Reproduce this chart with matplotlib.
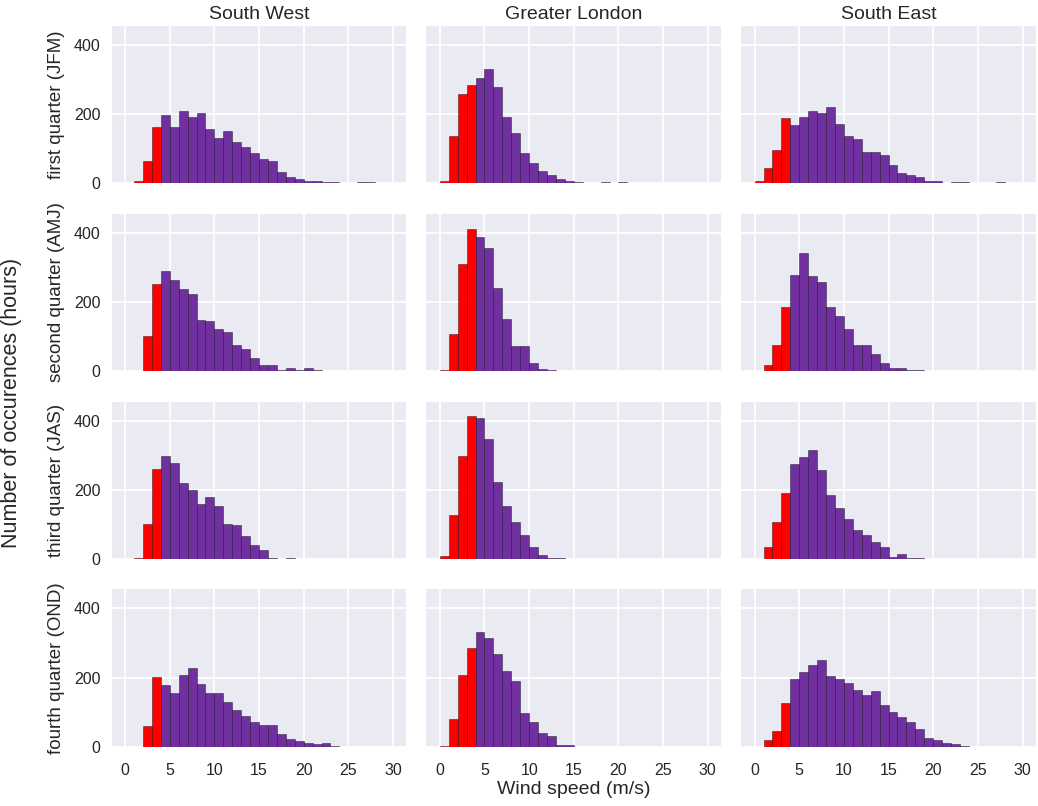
import numpy as np
import matplotlib
matplotlib.use("Agg")
import matplotlib.pyplot as plt
import seaborn as sns

sns.set_style("darkgrid")
plt.rcParams["font.family"] = ["Liberation Sans", "DejaVu Sans"]

# ---- data -------------------------------------------------------------
regions = ["South West", "Greater London", "South East"]
quarters = ["first quarter (JFM)", "second quarter (AMJ)",
            "third quarter (JAS)", "fourth quarter (OND)"]
# wind speed histogram bin edges (m/s)
bin_edges = [0, 1, 2, 3, 4, 5, 6, 7, 8, 9, 10, 11, 12, 13, 14, 15,
             16, 17, 18, 19, 20, 21, 22, 23, 24, 25, 26, 27, 28, 29, 30]
cut_in_speed = 4  # bins below this speed are drawn red

# hours per wind-speed bin
sw_jfm = [0, 8, 65, 163, 198, 163, 210, 193, 204, 157, 131, 152, 120, 106, 89,
          70, 65, 34, 17, 12, 7, 7, 3, 3, 2, 0, 5, 5, 0, 0]
gl_jfm = [6, 136, 259, 285, 304, 330, 280, 192, 146, 88, 58, 37, 23, 12, 6,
          3, 0, 0, 3, 0, 3, 0, 0, 0, 0, 0, 0, 0, 0, 0]
se_jfm = [7, 44, 96, 188, 168, 193, 210, 204, 220, 173, 137, 127, 90, 90, 81,
          54, 29, 23, 17, 7, 7, 0, 3, 3, 0, 0, 0, 4, 0, 0]

sw_amj = [0, 0, 102, 253, 289, 264, 237, 223, 149, 144, 122, 112, 76, 65, 39,
          17, 17, 2, 8, 2, 8, 3, 0, 0, 0, 0, 0, 0, 0, 0]
gl_amj = [2, 106, 309, 410, 388, 356, 241, 151, 73, 73, 22, 6, 2, 0, 0,
          0, 0, 0, 0, 0, 0, 0, 0, 0, 0, 0, 0, 0, 0, 0]
se_amj = [0, 18, 76, 186, 279, 343, 274, 258, 186, 159, 122, 75, 75, 49, 23,
          8, 8, 3, 3, 0, 0, 0, 0, 0, 0, 0, 0, 0, 0, 0]

sw_jas = [0, 3, 102, 261, 298, 277, 219, 198, 159, 179, 152, 101, 97, 65, 39,
          25, 4, 0, 4, 0, 0, 0, 0, 0, 0, 0, 0, 0, 0, 0]
gl_jas = [7, 127, 299, 414, 407, 346, 221, 153, 107, 69, 35, 12, 3, 3, 0,
          0, 0, 0, 0, 0, 0, 0, 0, 0, 0, 0, 0, 0, 0, 0]
se_jas = [0, 34, 107, 191, 274, 295, 315, 258, 184, 147, 116, 85, 70, 50, 34,
          6, 13, 3, 3, 0, 0, 0, 0, 0, 0, 0, 0, 0, 0, 0]

sw_ond = [0, 0, 60, 202, 177, 156, 207, 228, 181, 156, 156, 130, 105, 88, 72,
          63, 63, 36, 21, 15, 11, 7, 12, 3, 0, 0, 0, 0, 0, 0]
gl_ond = [3, 80, 207, 285, 331, 315, 269, 218, 191, 98, 72, 41, 32, 4, 4,
          0, 0, 0, 0, 0, 0, 0, 0, 0, 0, 0, 0, 0, 0, 0]
se_ond = [0, 20, 45, 125, 195, 215, 235, 252, 205, 195, 185, 165, 150, 160, 120,
          100, 85, 70, 50, 25, 18, 12, 8, 3, 0, 0, 0, 0, 0, 0]

panel_counts = [[sw_jfm, gl_jfm, se_jfm],
                [sw_amj, gl_amj, se_amj],
                [sw_jas, gl_jas, se_jas],
                [sw_ond, gl_ond, se_ond]]

x_ticks = [0, 5, 10, 15, 20, 25, 30]
y_ticks = [0, 200, 400]

# ---- style ------------------------------------------------------------
RED = "#ff0000"
PURPLE = "#7030a0"
TEXT = "#262626"

fig, axes = plt.subplots(4, 3, figsize=(10.38, 8.06), dpi=100,
                         sharex=True, sharey=True)
fig.subplots_adjust(left=0.1076, right=0.998, top=0.9677, bottom=0.0736,
                    wspace=0.068, hspace=0.194)

edges = np.asarray(bin_edges, dtype=float)
lefts = edges[:-1]
widths = np.diff(edges)
colors = [RED if l < cut_in_speed else PURPLE for l in lefts]

for r in range(4):
    for c in range(3):
        ax = axes[r, c]
        ax.set_facecolor("#eaeaf2")
        ax.bar(lefts, panel_counts[r][c], width=widths, align="edge",
               color=colors, edgecolor=(0, 0, 0, 0.45), linewidth=0.6,
               zorder=2)
        ax.grid(True, color="white", linewidth=1.3, zorder=0)
        ax.set_axisbelow(True)
        for s in ax.spines.values():
            s.set_visible(False)
        ax.tick_params(length=0, labelsize=11.5, labelcolor=TEXT)
        ax.tick_params(axis="y", pad=8)
        ax.tick_params(axis="x", pad=12)
        if r == 0:
            ax.set_title(regions[c], fontsize=14, color=TEXT, pad=5)
        if c == 0:
            ax.set_ylabel(quarters[r], fontsize=13.5, color=TEXT, labelpad=6)

axes[0, 0].set_xticks(x_ticks)
axes[0, 0].set_yticks(y_ticks)
axes[0, 0].set_xlim(-1.5, 31.5)
axes[0, 0].set_ylim(0, 455)

fig.text(12 / 1038, 0.5, "Number of occurences (hours)", rotation=90,
         ha="center", va="center", fontsize=15.5, color=TEXT)
fig.text(574 / 1038, 0.021, "Wind speed (m/s)", ha="center", va="center",
         fontsize=14, color=TEXT)

fig.savefig("out.png", dpi=100)
